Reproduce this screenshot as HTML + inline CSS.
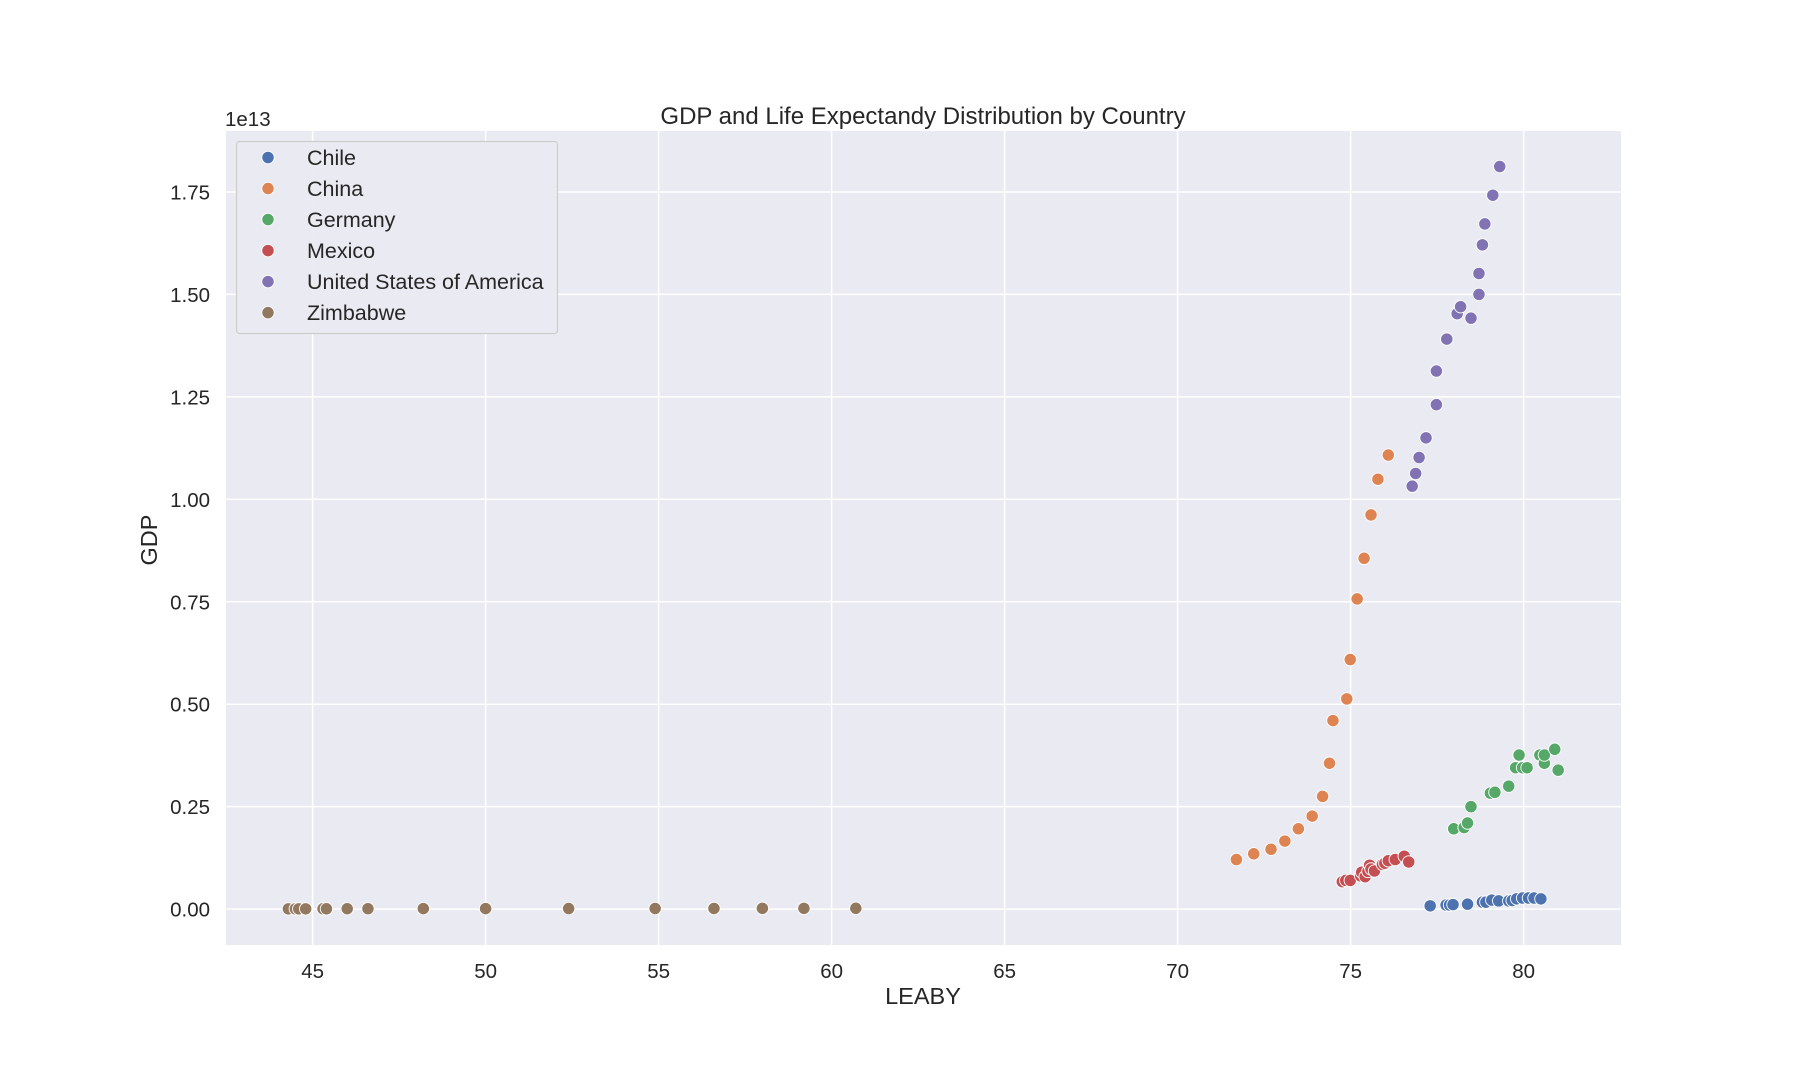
<!DOCTYPE html>
<html><head><meta charset="utf-8"><style>
html,body{margin:0;padding:0;background:#fff;}
svg text{font-family:"Liberation Sans","DejaVu Sans",sans-serif;fill:#262626;}
</style></head><body>
<svg id="chart" width="1800" height="1080" xmlns="http://www.w3.org/2000/svg">
<rect x="226" y="131" width="1395" height="814" fill="#eaeaf2"/>
<g id="grid"></g>
<g id="points"></g>
<g id="ticks"></g>
<text x="923" y="124" font-size="24" text-anchor="middle">GDP and Life Expectandy Distribution by Country</text>
<text x="225" y="126" font-size="20.5">1e13</text>
<text x="923" y="1004" font-size="23.5" text-anchor="middle">LEABY</text>
<text x="157" y="540" font-size="23.5" text-anchor="middle" transform="rotate(-90 157 540)">GDP</text>
<g id="legend">
<rect x="236.5" y="141.5" width="321" height="192" rx="3" fill="#eaeaf2" stroke="#cccccc" stroke-width="1.2" opacity="0.95"/>
</g>
</svg>
<script>
const countries = ["Chile","China","Germany","Mexico","United States of America","Zimbabwe"];
const colors = ["#4c72b0","#dd8452","#55a868","#c44e52","#8172b3","#937860"];
const chileX = [77.3,77.76,77.86,77.96,78.38,78.81,78.91,79.08,79.28,79.57,79.67,79.8,79.97,80.14,80.3,80.5];
const chileY = [0.008,0.010,0.010,0.011,0.012,0.017,0.017,0.022,0.020,0.020,0.021,0.025,0.027,0.027,0.027,0.025];
const chinaX = [71.7,72.2,72.7,73.1,73.49,73.89,74.19,74.39,74.49,74.89,74.99,75.19,75.39,75.59,75.79,76.09];
const chinaY = [0.121,0.135,0.146,0.166,0.196,0.227,0.275,0.356,0.460,0.513,0.609,0.757,0.856,0.962,1.049,1.108];
const germanyX = [77.98,78.28,78.38,78.48,79.04,79.17,79.57,79.77,79.97,80.1,80.47,79.87,80.6,80.6,80.9,81.0];
const germanyY = [0.196,0.199,0.210,0.250,0.283,0.285,0.300,0.345,0.345,0.345,0.376,0.376,0.356,0.376,0.390,0.339];
const mexicoX = [74.76,74.86,74.99,75.29,75.32,75.42,75.5,75.55,75.59,75.69,75.92,75.99,76.09,76.29,76.55,76.68];
const mexicoY = [0.067,0.070,0.070,0.081,0.090,0.079,0.092,0.107,0.098,0.093,0.109,0.112,0.118,0.121,0.129,0.115];
const usaX = [76.78,76.88,76.98,77.18,77.48,77.48,77.78,78.48,78.08,78.18,78.71,78.71,78.81,78.88,79.11,79.31];
const usaY = [1.032,1.063,1.102,1.150,1.231,1.313,1.391,1.442,1.453,1.470,1.500,1.551,1.621,1.672,1.742,1.812];
const zimX = [44.3,44.5,44.6,44.8,45.3,45.4,46.0,46.6,48.2,50.0,52.4,54.9,56.6,58.0,59.2,60.7];
const zimY = [0.0006,0.0006,0.0007,0.0007,0.0008,0.0008,0.0009,0.0010,0.0012,0.0013,0.0014,0.0015,0.0016,0.0018,0.0019,0.0020];
const xTicks = [45,50,55,60,65,70,75,80];
const yTicks = [0,0.25,0.5,0.75,1.0,1.25,1.5,1.75];
const yTickLabels = ["0.00","0.25","0.50","0.75","1.00","1.25","1.50","1.75"];

const NS = "http://www.w3.org/2000/svg";
const L=226,R=1621,T=131,B=945;
function xs(v){return 312.6 + (v-45)*34.6;}
function ys(v){return 909.1 - v*409.8;}
function mk(tag,attrs,parent){const e=document.createElementNS(NS,tag);for(const k in attrs)e.setAttribute(k,attrs[k]);parent.appendChild(e);return e;}
const grid=document.getElementById('grid'), ticks=document.getElementById('ticks'), pts=document.getElementById('points'), legend=document.getElementById('legend');
xTicks.forEach(t=>{
  const x=xs(t);
  const l=mk('line',{x1:x,x2:x,y1:T,y2:B,stroke:'#fff','stroke-width':1.5},grid);
  
  
  const tx=mk('text',{x:x,y:978,'font-size':20.5,'text-anchor':'middle'},ticks);
  tx.textContent=t;
  
  
});
yTicks.forEach((t,i)=>{
  const y=ys(t);
  const l=mk('line',{x1:L,x2:R,y1:y,y2:y,stroke:'#fff','stroke-width':1.5},grid);
  
  
  const tx=mk('text',{x:210,y:y+7.5,'font-size':20.5,'text-anchor':'end'},ticks);
  tx.textContent=yTickLabels[i];
  
  
});
const seriesX=[chileX,chinaX,germanyX,mexicoX,usaX,zimX];
const seriesY=[chileY,chinaY,germanyY,mexicoY,usaY,zimY];
seriesX.forEach((xsArr,s)=>{
  xsArr.forEach((xv,i)=>{
    const c=mk('circle',{cx:xs(xv),cy:ys(seriesY[s][i]),r:6.2,fill:colors[s],stroke:'#fff','stroke-width':0.9},pts);
    
    
  });
});
countries.forEach((n,i)=>{
  const y=157.5+i*31.03;
  const c=mk('circle',{cx:268,cy:y,r:6.2,fill:colors[i],stroke:'#fff','stroke-width':0.9},legend);
  
  
  const t=mk('text',{x:307,y:y+7.5,'font-size':21.5},legend);
  t.textContent=n;
  
  
});
</script>
</body></html>
